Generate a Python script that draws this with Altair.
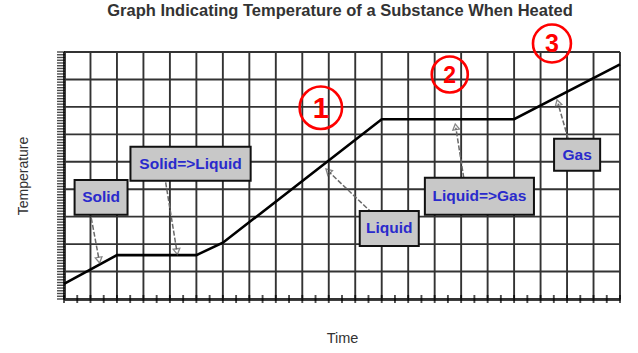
import altair as alt
import pandas as pd

# ---- data (grid units: time in columns, temperature in rows) ----
time = [0, 2, 5, 6, 12, 17, 21]
temp = [0.55, 1.6, 1.6, 2.05, 6.55, 6.55, 8.55]

grid_cols = list(range(0, 22))
grid_rows = list(range(0, 10))
x_minor_ticks = [i * 0.5 for i in range(43)]
y_minor_ticks = [round(i * 0.1, 1) for i in range(91)]

title_text = "Graph Indicating Temperature of a Substance When Heated"

labels = ["Solid", "Solid=>Liquid", "Liquid", "Liquid=>Gas", "Gas"]
box_x1 = [0.40, 2.51, 11.17, 13.63, 18.51]
box_x2 = [2.40, 7.05, 13.40, 17.75, 20.25]
box_y1 = [3.07, 4.31, 1.93, 3.07, 4.67]
box_y2 = [4.34, 5.55, 3.21, 4.42, 5.84]

arrow_x1 = [1.03, 3.84, 11.63, 15.14, 19.04]
arrow_y1 = [2.95, 4.25, 3.14, 4.16, 5.84]
arrow_x2 = [1.32, 4.26, 10.00, 14.80, 18.66]
arrow_y2 = [1.45, 1.76, 4.64, 6.24, 7.12]
arrow_angle = [170, 171, 314, 351, 344]

marker_num = ["1", "2", "3"]
marker_x = [9.70, 14.57, 18.43]
marker_y = [6.97, 8.18, 9.31]

# ---- tables ----
curve = pd.DataFrame({"time": time, "temp": temp})
vgrid = pd.DataFrame({"c": grid_cols})
hgrid = pd.DataFrame({"r": grid_rows})
xt = pd.DataFrame({"t": x_minor_ticks})
yt = pd.DataFrame({"t": y_minor_ticks})
boxes = pd.DataFrame({"label": labels, "x1": box_x1, "x2": box_x2, "y1": box_y1, "y2": box_y2})
arrows = pd.DataFrame({"x1": arrow_x1, "y1": arrow_y1, "x2": arrow_x2, "y2": arrow_y2, "ang": arrow_angle})
markers = pd.DataFrame({"n": marker_num, "x": marker_x, "y": marker_y})
title_df = pd.DataFrame({"t": [title_text]})

FONT = "Liberation Sans"
xs = alt.Scale(domain=[0, 21], nice=False, zero=False)
ys = alt.Scale(domain=[0, 9], nice=False, zero=False)

xaxis = alt.Axis(title="Time", grid=False, ticks=False, labels=False,
                 domainColor="#000", domainWidth=2.5, titleFont=FONT,
                 titleFontSize=14.5, titleFontWeight="normal", titleColor="#333",
                 titlePadding=32)
yaxis = alt.Axis(title="Temperature", grid=False, ticks=False, labels=False,
                 domainColor="#000", domainWidth=2.5, titleFont=FONT,
                 titleFontSize=14, titleFontWeight="normal", titleColor="#333",
                 titlePadding=34)

vlines = alt.Chart(vgrid).mark_rule(color="#333", strokeWidth=1.9).encode(
    x=alt.X("c:Q", scale=xs, axis=xaxis),
    y=alt.datum(0, scale=ys, axis=yaxis),
    y2=alt.datum(9),
)
hlines = alt.Chart(hgrid).mark_rule(color="#333", strokeWidth=1.9).encode(
    y=alt.Y("r:Q", scale=ys, axis=yaxis),
    x=alt.datum(0, scale=xs, axis=xaxis),
    x2=alt.datum(21),
)
xticks = alt.Chart(xt).mark_tick(orient="vertical", size=8, thickness=1.9, color="#000").encode(
    x=alt.X("t:Q", scale=xs, axis=xaxis),
    y=alt.datum(0, scale=ys, axis=yaxis),
)
yticks = alt.Chart(yt).mark_tick(orient="horizontal", size=8, thickness=1.4, color="#000",
                                 xOffset=-3).encode(
    y=alt.Y("t:Q", scale=ys, axis=yaxis),
    x=alt.datum(0, scale=xs, axis=xaxis),
)
line = alt.Chart(curve).mark_line(color="#000", strokeWidth=2.6).encode(
    x=alt.X("time:Q", scale=xs, axis=xaxis),
    y=alt.Y("temp:Q", scale=ys, axis=yaxis),
)
arrow_lines = alt.Chart(arrows).mark_rule(color="#6a6a6a", strokeWidth=1.5, strokeDash=[5, 2]).encode(
    x=alt.X("x1:Q", scale=xs, axis=xaxis), y=alt.Y("y1:Q", scale=ys, axis=yaxis), x2="x2:Q", y2="y2:Q"
)
arrow_heads = alt.Chart(arrows).mark_point(shape="triangle", filled=False, color="#555",
                                           size=45, strokeWidth=1.3).encode(
    x=alt.X("x2:Q", scale=xs, axis=xaxis), y=alt.Y("y2:Q", scale=ys, axis=yaxis),
    angle=alt.Angle("ang:Q", scale=None)
)
box_rects = alt.Chart(boxes).mark_rect(fill="#c8c8c8", stroke="#111", strokeWidth=2).encode(
    x=alt.X("x1:Q", scale=xs, axis=xaxis), x2="x2:Q",
    y=alt.Y("y1:Q", scale=ys, axis=yaxis), y2="y2:Q"
)
box_text = alt.Chart(boxes).transform_calculate(
    xm="(datum.x1 + datum.x2) / 2", ym="(datum.y1 + datum.y2) / 2"
).mark_text(font=FONT, fontSize=15.5, fontWeight="bold", color="#2a2acc",
            align="center", baseline="middle").encode(
    x=alt.X("xm:Q", scale=xs, axis=xaxis), y=alt.Y("ym:Q", scale=ys, axis=yaxis), text="label:N"
)
title_mark = alt.Chart(title_df).mark_text(font=FONT, fontSize=16.5, fontWeight="bold", color="#333",
                                           align="center", baseline="middle").encode(
    x=alt.value(276), y=alt.value(-41), text="t:N"
)

marker_sizes = [1800, 1300, 1440]
font_sizes = [29, 23, 25]
marker_layers = []
for i in range(len(marker_num)):
    sub = markers.iloc[[i]]
    marker_layers.append(
        alt.Chart(sub).mark_point(shape="circle", filled=False, color="#ff0000",
                                  size=marker_sizes[i], strokeWidth=2.6, opacity=1).encode(
            x=alt.X("x:Q", scale=xs, axis=xaxis), y=alt.Y("y:Q", scale=ys, axis=yaxis))
    )
    marker_layers.append(
        alt.Chart(sub).mark_text(font=FONT, fontSize=font_sizes[i], fontWeight="bold",
                                 color="#ff0000", align="center", baseline="middle", dy=1).encode(
            x=alt.X("x:Q", scale=xs, axis=xaxis), y=alt.Y("y:Q", scale=ys, axis=yaxis), text="n:N")
    )

chart = alt.layer(
    vlines, hlines, line, arrow_lines, arrow_heads, box_rects, box_text, xticks, yticks,
    title_mark, *marker_layers
).properties(
    width=556, height=247,
    autosize=alt.AutoSizeParams(type="none"),
    padding={"left": 64, "top": 52, "right": 18, "bottom": 54},
).configure_view(stroke=None).configure(background="white")

chart.save("out.html", embed_options={"renderer": "svg", "actions": False})
